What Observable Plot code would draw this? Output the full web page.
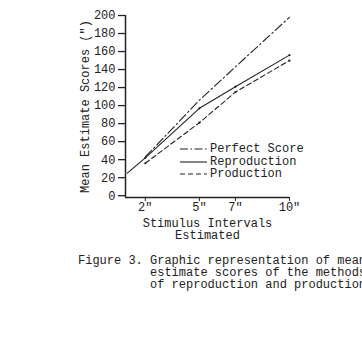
<!DOCTYPE html>
<html>
<head>
<meta charset="utf-8">
<script src="https://cdn.jsdelivr.net/npm/d3@7"></script>
<script src="https://cdn.jsdelivr.net/npm/@observablehq/plot@0.6"></script>
<style>
  html, body { margin: 0; padding: 0; background: #fff; overflow: hidden; width: 362px; height: 350px; }
  #wrap { position: relative; width: 362px; height: 350px; font-family: "Liberation Mono", monospace; color: #222; }
  #legend { position: absolute; left: 180px; top: 143px; font-size: 12px; }
  #legend .row { display: flex; align-items: center; height: 12.5px; white-space: pre; }
  #legend svg { width: 27px; height: 10px; margin-right: 3px; }
  #caption { position: absolute; left: 78px; top: 255px; font-size: 12px; line-height: 12px; white-space: pre; }
</style>
</head>
<body>
<div id="wrap"></div>
<script>
const intervals = [2, 5, 7, 10];
const intervalLabels = ['2"', '5"', '7"', '10"'];
const perfectScore = [43, 106, 143, 198];
const reproductionX = [1, 2, 5, 7, 10];
const reproduction = [25, 42, 97, 121, 156];
const production = [36, 81, 115, 150];
const yTicks = [0, 20, 40, 60, 80, 100, 120, 140, 160, 180, 200];
const seriesNames = ["Perfect Score", "Reproduction", "Production"];
const dashes = ["9,3,1.5,3", null, "5,3"];

const perfectData = intervals.map((x, i) => ({x, y: perfectScore[i]}));
const reproData = reproductionX.map((x, i) => ({x, y: reproduction[i]}));
const prodData = intervals.map((x, i) => ({x, y: production[i]}));
const ink = "#222";

const chart = Plot.plot({
  width: 362,
  height: 245,
  marginLeft: 125,
  marginRight: 73,
  marginTop: 15,
  marginBottom: 48,
  style: {fontFamily: "Liberation Mono, monospace", fontSize: "12px", color: ink, background: "#fff"},
  x: {domain: [0.9, 10]},
  y: {domain: [-2, 200]},
  marks: [
    Plot.ruleY([-2], {stroke: ink, strokeWidth: 1.5}),
    Plot.ruleX([0.9], {stroke: ink, strokeWidth: 1.5}),
    Plot.axisY({ticks: yTicks, tickSize: 7, tickPadding: 3, label: 'Mean Estimate Scores (")', labelAnchor: "center", labelOffset: 45, labelArrow: "none", stroke: ink, strokeWidth: 1.3}),
    Plot.axisX({ticks: intervals, tickSize: 4, tickPadding: 1, tickFormat: (d) => intervalLabels[intervals.indexOf(d)], label: "Stimulus Intervals\nEstimated", labelAnchor: "center", labelOffset: 41, labelArrow: "none", stroke: ink}),
    Plot.line(perfectData, {x: "x", y: "y", stroke: ink, strokeWidth: 1.1, strokeDasharray: dashes[0]}),
    Plot.line(reproData, {x: "x", y: "y", stroke: ink, strokeWidth: 1.1}),
    Plot.line(prodData, {x: "x", y: "y", stroke: ink, strokeWidth: 1.1, strokeDasharray: dashes[2]}),
    Plot.dot(reproData.slice(1), {x: "x", y: "y", r: 1.1, fill: ink}),
    Plot.dot(prodData, {x: "x", y: "y", r: 1.1, fill: ink})
  ]
});

const wrap = document.getElementById("wrap");
wrap.appendChild(chart);

const legend = document.createElement("div");
legend.id = "legend";
seriesNames.forEach((name, i) => {
  const row = document.createElement("div");
  row.className = "row";
  const dash = dashes[i] ? `stroke-dasharray="${i === 0 ? '8,2.5,1.5,2.5' : '5,3'}"` : "";
  row.innerHTML = `<svg viewBox="0 0 27 10"><line x1="0" x2="27" y1="5" y2="5" stroke="${ink}" stroke-width="1.1" ${dash}/></svg><span>${name}</span>`;
  legend.appendChild(row);
});
wrap.appendChild(legend);

const caption = document.createElement("div");
caption.id = "caption";
caption.textContent = "Figure 3. Graphic representation of mean\n          estimate scores of the methods\n          of reproduction and production";
wrap.appendChild(caption);
</script>
</body>
</html>
